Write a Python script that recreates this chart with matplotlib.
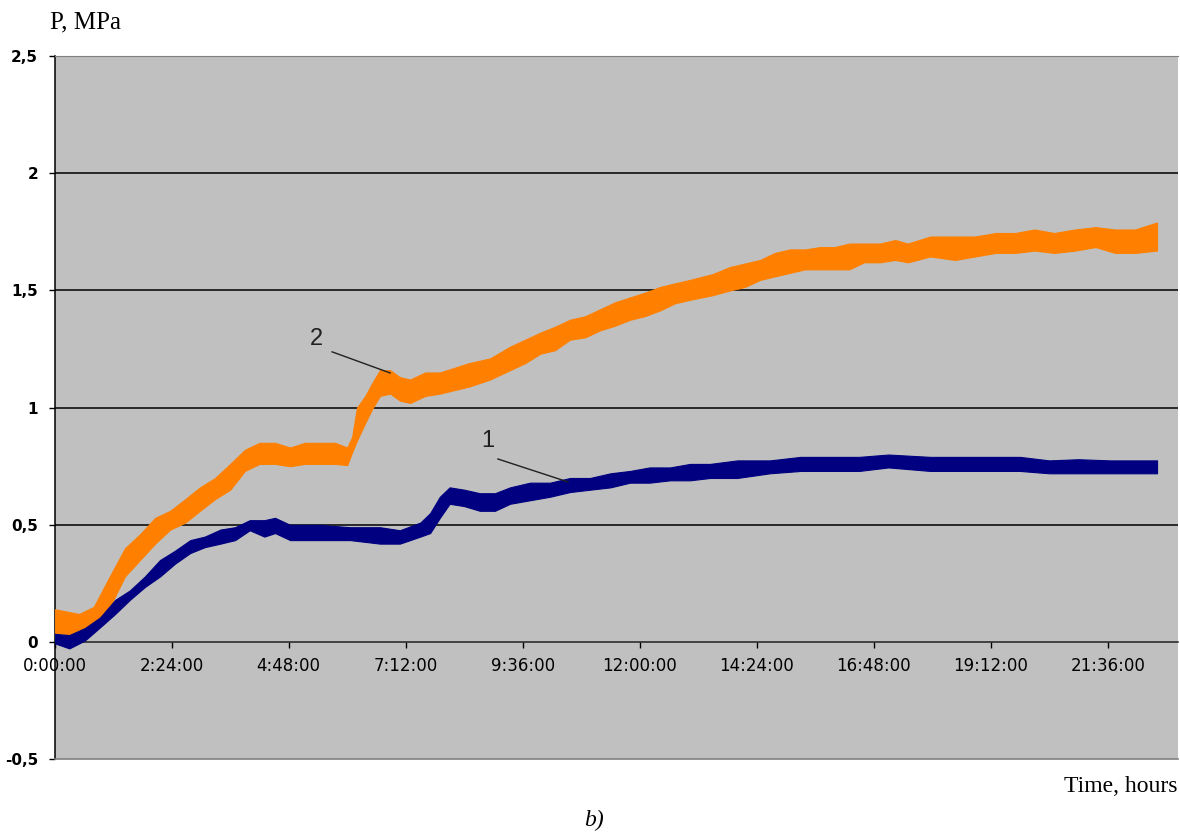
import matplotlib
matplotlib.use("Agg")
import matplotlib.pyplot as plt

# ---------------- data ----------------
# Curve 2 (orange): time in hours, lower / upper envelope of the noisy band, MPa
t2 = [0.0, 0.5, 0.8, 1.13, 1.44, 1.75, 2.06, 2.37, 2.68, 2.98, 3.29, 3.6, 3.9, 4.2,
      4.52, 4.83, 5.13, 5.44, 5.75, 6.0, 6.1, 6.2, 6.37, 6.5, 6.67, 6.88, 7.08, 7.29,
      7.6, 7.9, 8.2, 8.5, 8.93, 9.34, 9.65, 9.96, 10.26, 10.57, 10.88, 11.19, 11.5,
      11.8, 12.1, 12.42, 12.72, 13.03, 13.5, 13.85, 14.16, 14.47, 14.77, 15.08, 15.39,
      15.7, 16.0, 16.3, 16.6, 16.93, 17.24, 17.5, 17.96, 18.47, 18.88, 19.3, 19.7,
      20.1, 20.5, 20.93, 21.35, 21.75, 22.16, 22.61]
p2_low = [0.04, 0.02, 0.06, 0.15, 0.28, 0.35, 0.42, 0.48, 0.51, 0.56, 0.61, 0.65, 0.73, 0.76,
          0.76, 0.75, 0.76, 0.76, 0.76, 0.755, 0.81, 0.86, 0.935, 0.99, 1.05, 1.06, 1.03, 1.02,
          1.05, 1.06, 1.075, 1.09, 1.12, 1.16, 1.19, 1.23, 1.245, 1.29, 1.30, 1.33, 1.35,
          1.375, 1.39, 1.415, 1.445, 1.46, 1.48, 1.50, 1.515, 1.545, 1.56, 1.575, 1.59,
          1.59, 1.59, 1.59, 1.62, 1.62, 1.63, 1.62, 1.645, 1.63, 1.645, 1.66, 1.66,
          1.67, 1.66, 1.67, 1.685, 1.66, 1.66, 1.67]
p2_high = [0.14, 0.12, 0.15, 0.28, 0.40, 0.46, 0.53, 0.56, 0.61, 0.66, 0.70, 0.76, 0.82, 0.85,
           0.85, 0.83, 0.85, 0.85, 0.85, 0.83, 0.875, 1.0, 1.05, 1.10, 1.16, 1.16, 1.13, 1.12,
           1.15, 1.15, 1.17, 1.19, 1.21, 1.26, 1.29, 1.32, 1.345, 1.375, 1.39, 1.42, 1.45,
           1.47, 1.49, 1.515, 1.53, 1.545, 1.57, 1.60, 1.615, 1.63, 1.66, 1.675, 1.675,
           1.685, 1.685, 1.70, 1.70, 1.70, 1.715, 1.70, 1.73, 1.73, 1.73, 1.745, 1.745,
           1.76, 1.745, 1.76, 1.77, 1.76, 1.76, 1.79]

# Curve 1 (navy)
t1 = [0.0, 0.3, 0.62, 0.93, 1.24, 1.54, 1.85, 2.16, 2.47, 2.78, 3.08, 3.4, 3.7, 4.0, 4.3,
      4.52, 4.83, 5.44, 6.06, 6.67, 7.08, 7.5, 7.7, 7.9, 8.1, 8.4, 8.72, 9.03, 9.34, 9.75,
      10.16, 10.57, 10.98, 11.4, 11.8, 12.2, 12.62, 13.03, 13.44, 14.0, 14.67, 15.3, 15.9,
      16.5, 17.1, 17.96, 18.57, 19.2, 19.8, 20.4, 21.0, 21.65, 22.3, 22.61]
p1_low = [-0.005, -0.027, 0.007, 0.063, 0.12, 0.18, 0.235, 0.28, 0.335, 0.38, 0.405, 0.42,
          0.435, 0.477, 0.45, 0.465, 0.435, 0.435, 0.435, 0.42, 0.42, 0.45, 0.465, 0.53,
          0.59, 0.58, 0.56, 0.56, 0.59, 0.605, 0.62, 0.64, 0.65, 0.66, 0.68, 0.68, 0.69,
          0.69, 0.70, 0.70, 0.72, 0.73, 0.73, 0.73, 0.745, 0.73, 0.73, 0.73, 0.73, 0.72,
          0.72, 0.72, 0.72, 0.72]
p1_high = [0.035, 0.03, 0.06, 0.105, 0.18, 0.22, 0.28, 0.35, 0.39, 0.435, 0.45, 0.48, 0.49,
           0.52, 0.52, 0.53, 0.50, 0.50, 0.49, 0.49, 0.477, 0.51, 0.55, 0.62, 0.66, 0.65,
           0.635, 0.635, 0.66, 0.68, 0.68, 0.70, 0.70, 0.72, 0.73, 0.745, 0.745, 0.76, 0.76,
           0.775, 0.775, 0.79, 0.79, 0.79, 0.80, 0.79, 0.79, 0.79, 0.79, 0.775, 0.78, 0.775,
           0.775, 0.775]

x_ticks_h = [0.0, 2.4, 4.8, 7.2, 9.6, 12.0, 14.4, 16.8, 19.2, 21.6]
x_tick_labels = ["0:00:00", "2:24:00", "4:48:00", "7:12:00", "9:36:00", "12:00:00",
                 "14:24:00", "16:48:00", "19:12:00", "21:36:00"]
y_ticks = [-0.5, 0.0, 0.5, 1.0, 1.5, 2.0, 2.5]
y_tick_labels = ["-0,5", "0", "0,5", "1", "1,5", "2", "2,5"]

# ---------------- figure ----------------
W, H = 1180, 834
fig = plt.figure(figsize=(W / 100, H / 100), dpi=100)
ax = fig.add_axes([54.7 / W, (H - 759.3) / H, (1178 - 54.7) / W, (759.3 - 56) / H])
ax.set_facecolor("#C0C0C0")
ax.set_xlim(0, 23.04)
ax.set_ylim(-0.5, 2.5)

for g in [0.5, 1.0, 1.5, 2.0]:
    ax.axhline(g, color="black", lw=1.1, zorder=1)

ax.fill_between(t2, p2_low, p2_high, color="#FF8000", lw=0.8, zorder=3)
ax.fill_between(t1, p1_low, p1_high, color="#000080", lw=0.8, zorder=3)

# spines
ax.spines["bottom"].set_position(("data", 0))
ax.spines["bottom"].set_color("#202020")
ax.spines["bottom"].set_linewidth(1.1)
ax.spines["left"].set_color("black")
ax.spines["left"].set_linewidth(1.1)
ax.spines["top"].set_color("#808080")
ax.spines["right"].set_visible(False)
ax.axhline(-0.5, color="#808080", lw=1.2, clip_on=False, zorder=5)

ax.set_xticks(x_ticks_h, x_tick_labels)
ax.set_yticks(y_ticks, y_tick_labels)
ax.tick_params(axis="x", direction="out", length=4, width=1, pad=7,
               labelsize=12, colors="black")
ax.tick_params(axis="y", direction="out", length=4, width=1, pad=8, labelsize=11)
for lab in ax.get_yticklabels():
    lab.set_fontweight("bold")

# annotations
ax.text(5.36, 1.294, "2", fontsize=17, family="Liberation Sans", color="#202020",
        ha="center", va="center", zorder=6)
ax.plot([5.69, 6.88], [1.238, 1.148], color="#202020", lw=1.0, zorder=6)
ax.text(8.89, 0.858, "1", fontsize=17, family="Liberation Sans", color="#202020",
        ha="center", va="center", zorder=6)
ax.plot([9.09, 10.53], [0.781, 0.683], color="#202020", lw=1.0, zorder=6)

fig.text(50 / W, 1 - 22 / H, "P, MPa", family="Liberation Serif", fontsize=18,
         ha="left", va="center")
fig.text(1178 / W, 1 - 786 / H, "Time, hours", family="Liberation Serif", fontsize=17,
         ha="right", va="center")
fig.text(594 / W, 1 - 820 / H, "b)", family="Liberation Serif", style="italic",
         fontsize=17, ha="center", va="center")

fig.savefig("out.png", dpi=100)
